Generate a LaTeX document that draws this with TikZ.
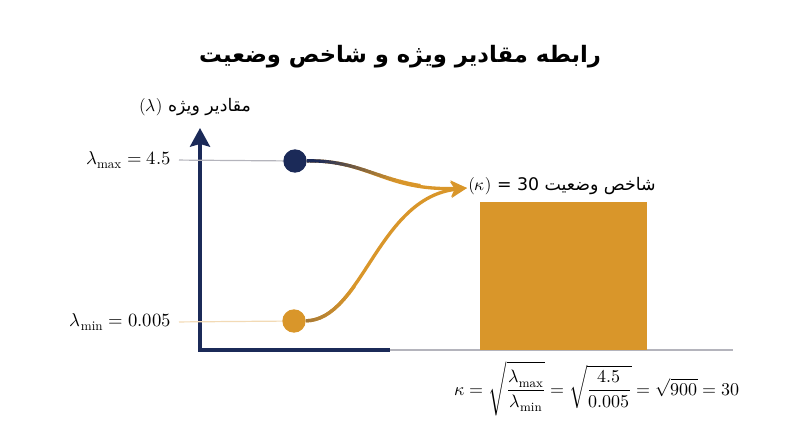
\documentclass[tikz,border=0pt]{standalone}
\usepackage{fontspec}
\usepackage{unicode-math}
\usepackage{xcolor}
\usetikzlibrary{arrows.meta}
\newfontfamily\farsi[Script=Arabic]{DejaVu Sans}
\TeXXeTstate=1
\definecolor{DeepNavy}{RGB}{27,42,88}
\definecolor{Amber}{RGB}{217,150,42}
\definecolor{GuideGray}{RGB}{180,180,188}

\tikzset{
  axisline/.style={color=DeepNavy, line width=2.6pt},
  guideline/.style={line width=0.9pt},
  flowline/.style={line width=2.5pt},
  dot/.style={circle, inner sep=0pt, minimum size=17.5pt},
  mathlabel/.style={inner sep=0pt, font=\fontsize{14}{16}\selectfont}
}

\begin{document}
\begin{tikzpicture}[x=0.75pt,y=0.75pt,yscale=-1,xscale=1]
\useasboundingbox (0,0) rectangle (800,447);

% Text Node
\node (title) at (400,57) {\fontsize{17}{20}\selectfont\farsi\bfseries\beginR رابطه مقادیر ویژه و شاخص وضعیت\endR};

%Coordinates of the axes
\coordinate (origin) at (200,350);
\coordinate (ytip) at (200,128);
\coordinate (xend) at (390,350);
\coordinate (baseend) at (733,350);
\coordinate (tip) at (467,188);

%Straight Lines: base line
\draw [guideline, GuideGray] (origin) -- (baseend);
%Straight Lines: axes
\draw [axisline, {Stealth[length=14pt,width=15pt,inset=2pt]}-] (ytip) -- (origin) -- (xend);

% Text Node
\node (ylabel) at (195,107) {\fontsize{13}{15}\selectfont($\lambda$) {\farsi\beginR مقادیر ویژه\endR}};
% Text Node
\node [mathlabel, anchor=east] (maxlabel) at (171,160) {$\lambda_{\max} = 4.5$};
% Text Node
\node [mathlabel, anchor=east] (minlabel) at (171,322) {$\lambda_{\min} = 0.005$};

%Shape: Circle
\node [dot, fill=DeepNavy] (maxdot) at (295,161) {};
%Shape: Circle
\node [dot, fill=Amber] (mindot) at (294,321) {};

%Straight Lines: guides
\draw [guideline, GuideGray, shorten <=6pt] (maxlabel.east) -- (maxdot);
\draw [guideline, Amber!35, shorten <=6pt] (minlabel.east) -- (mindot);

%Curve Lines
\draw [flowline, Amber, -{Stealth[length=12pt,width=12pt,inset=3pt]}] (maxdot) .. controls (370,160) and (385,191) .. (tip);
\draw [flowline, Amber, -{Stealth[length=12pt,width=12pt,inset=3pt]}] (mindot) .. controls (362,320) and (378,198) .. (tip);
%gradient of the upper curve
\foreach \s in {0,...,23} {
  \pgfmathsetmacro{\mix}{max(0,min(100,100*(302.5+5*\s-318)/80))}
  \begin{scope}
    \clip (300+5*\s,140) rectangle (305.6+5*\s,205);
    \draw [flowline, color=Amber!\mix!DeepNavy] (maxdot) .. controls (370,160) and (385,191) .. (tip);
  \end{scope}
}
%gradient of the lower curve
\foreach \s in {0,...,10} {
  \pgfmathsetmacro{\mix}{max(0,min(100,72+28*(302.5+5*\s-305)/48))}
  \begin{scope}
    \clip (300+5*\s,190) rectangle (305.6+5*\s,335);
    \draw [flowline, color=Amber!\mix!DeepNavy] (mindot) .. controls (362,320) and (378,198) .. (tip);
  \end{scope}
}

%Shape: Rectangle
\fill [Amber] (480,202) rectangle (647,350);
% Text Node
\node (kappalabel) at (562,186) {\fontsize{13}{15}\selectfont($\kappa$) {\farsi = 30 \beginR شاخص وضعیت\endR}};

% Text Node
\node [mathlabel, font=\fontsize{13.5}{16}\selectfont] (formula) at (597,389) {$\displaystyle \kappa = \sqrt{\frac{\lambda_{\max}}{\lambda_{\min}}} = \sqrt{\frac{4.5}{0.005}} = \sqrt{900} = 30$};

\end{tikzpicture}
\end{document}
